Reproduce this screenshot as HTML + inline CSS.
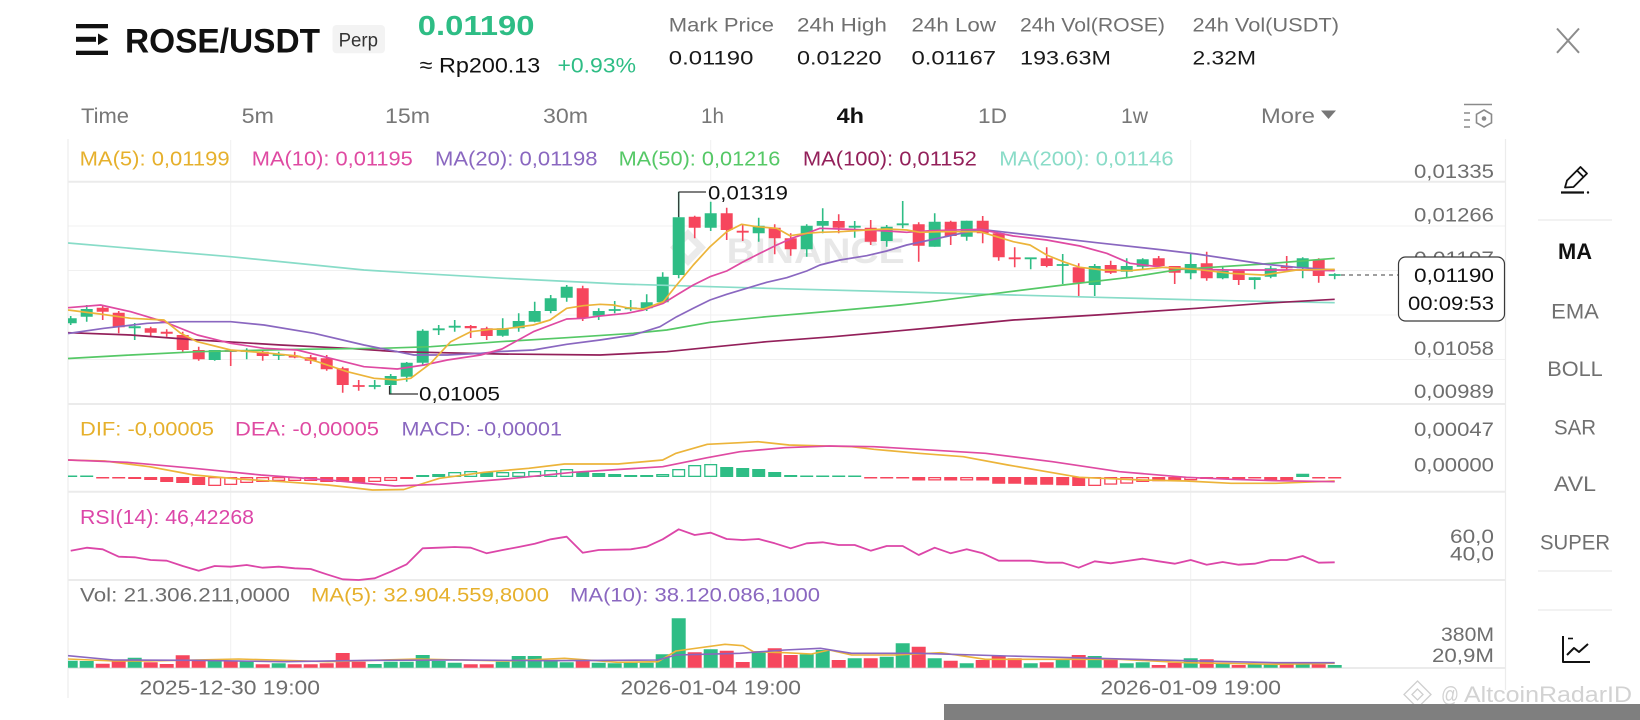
<!DOCTYPE html>
<html><head><meta charset="utf-8"><style>
html,body{margin:0;padding:0;background:#fff;width:1640px;height:720px;overflow:hidden}
svg{display:block}
text{font-family:"Liberation Sans",Arial,sans-serif}
</style></head><body>
<svg width="1640" height="720" viewBox="0 0 1640 720" xmlns="http://www.w3.org/2000/svg">
<defs><clipPath id="cp"><rect x="68" y="140" width="1437" height="560"/></clipPath></defs>
<rect width="1640" height="720" fill="#fff"/>

<!-- header -->
<g fill="#111">
<rect x="76" y="24" width="32" height="4.3"/>
<rect x="76" y="36.8" width="20" height="5"/>
<path d="M98 33.5 L108 39.3 L98 45 Z"/>
<rect x="76" y="50.7" width="32" height="4.3"/>
</g>
<text x="125" y="52.5" font-size="34" font-weight="bold" fill="#111" textLength="195" lengthAdjust="spacingAndGlyphs">ROSE/USDT</text>
<rect x="332.5" y="25" width="52.5" height="28.3" rx="4" fill="#f3f3f3"/>
<text x="338.6" y="46.7" font-size="19" fill="#333" textLength="39.4" lengthAdjust="spacingAndGlyphs">Perp</text>
<text x="417.8" y="34.8" font-size="28" font-weight="bold" fill="#2ebd85" textLength="116.7" lengthAdjust="spacingAndGlyphs">0.01190</text>
<text x="419.7" y="72.6" font-size="21.5" fill="#111" textLength="120.6" lengthAdjust="spacingAndGlyphs">≈ Rp200.13</text>
<text x="557.5" y="72.6" font-size="21.5" fill="#2ebd85" textLength="78.5" lengthAdjust="spacingAndGlyphs">+0.93%</text>

<g font-size="19" fill="#707070">
<text x="668.8" y="31.5" textLength="105.2" lengthAdjust="spacingAndGlyphs">Mark Price</text>
<text x="797" y="31.5" textLength="89.8" lengthAdjust="spacingAndGlyphs">24h High</text>
<text x="911.5" y="31.5" textLength="84.5" lengthAdjust="spacingAndGlyphs">24h Low</text>
<text x="1020" y="31.5" textLength="145" lengthAdjust="spacingAndGlyphs">24h Vol(ROSE)</text>
<text x="1192.5" y="31.5" textLength="146.5" lengthAdjust="spacingAndGlyphs">24h Vol(USDT)</text>
</g>
<g font-size="19" fill="#1a1a1a">
<text x="668.8" y="64.5" textLength="84.6" lengthAdjust="spacingAndGlyphs">0.01190</text>
<text x="797" y="64.5" textLength="84.5" lengthAdjust="spacingAndGlyphs">0.01220</text>
<text x="911.5" y="64.5" textLength="84.5" lengthAdjust="spacingAndGlyphs">0.01167</text>
<text x="1020" y="64.5" textLength="91" lengthAdjust="spacingAndGlyphs">193.63M</text>
<text x="1192.5" y="64.5" textLength="63.5" lengthAdjust="spacingAndGlyphs">2.32M</text>
</g>
<path d="M1557 28.5 L1579 52.8 M1579 28.5 L1557 52.8" stroke="#8c8c8c" stroke-width="2" fill="none"/>

<!-- tabs -->
<g font-size="21" fill="#777">
<text x="81" y="123" textLength="48" lengthAdjust="spacingAndGlyphs">Time</text>
<text x="241.6" y="123" textLength="32.4" lengthAdjust="spacingAndGlyphs">5m</text>
<text x="385" y="123" textLength="45" lengthAdjust="spacingAndGlyphs">15m</text>
<text x="543" y="123" textLength="45" lengthAdjust="spacingAndGlyphs">30m</text>
<text x="701" y="123" textLength="23" lengthAdjust="spacingAndGlyphs">1h</text>
<text x="836.6" y="123" textLength="27.4" lengthAdjust="spacingAndGlyphs" fill="#111" font-weight="bold">4h</text>
<text x="978" y="123" textLength="29" lengthAdjust="spacingAndGlyphs">1D</text>
<text x="1121" y="123" textLength="27" lengthAdjust="spacingAndGlyphs">1w</text>
<text x="1261" y="123" textLength="54" lengthAdjust="spacingAndGlyphs">More</text>
</g>
<path d="M1321 110.5 H1336 L1328.5 119 Z" fill="#777"/>
<g stroke="#8a8a8a" stroke-width="1.6" fill="none">
<path d="M1464 104.5 H1492 M1464 113 H1470 M1464 120 H1470 M1464 127 H1470"/>
<path d="M1484 110 L1491.5 114.3 L1491.5 122.8 L1484 127 L1476.5 122.8 L1476.5 114.3 Z"/>
</g>
<circle cx="1484" cy="118.5" r="2.3" fill="#8a8a8a"/>

<!-- grid -->
<g stroke="#f0f0f0" stroke-width="1">
<path d="M68 226H1505M68 270.5H1505M68 315H1505M68 359.5H1505"/>
<path d="M230.7 140V668M710.7 140V668M1190.7 140V668"/>
</g>
<g stroke="#ebebeb" stroke-width="2">
<path d="M68 181.7H1505M68 404H1505M68 491.7H1505M68 580H1505M68 668H1505"/>
</g>
<path d="M68 139V698M1505.5 139V690" stroke="#ececec" stroke-width="1.2"/>

<!-- Binance watermark -->
<g fill="#ebebeb">
<path d="M688 229 L706 247.5 L688 266 L670 247.5 Z M688 239 L679.5 247.5 L688 256 L696.5 247.5 Z" fill-rule="evenodd"/>
</g>
<text x="726.7" y="263" font-size="35" font-weight="bold" fill="#e8e8e8" textLength="178" lengthAdjust="spacingAndGlyphs">BINANCE</text>

<!-- legend -->
<g font-size="20">
<text x="79.6" y="165.5" fill="#e6b02c" textLength="150" lengthAdjust="spacingAndGlyphs">MA(5): 0,01199</text>
<text x="251.8" y="165.5" fill="#df4aa2" textLength="161" lengthAdjust="spacingAndGlyphs">MA(10): 0,01195</text>
<text x="435" y="165.5" fill="#8a67c0" textLength="162.5" lengthAdjust="spacingAndGlyphs">MA(20): 0,01198</text>
<text x="618.6" y="165.5" fill="#55c866" textLength="161.8" lengthAdjust="spacingAndGlyphs">MA(50): 0,01216</text>
<text x="802.9" y="165.5" fill="#93205a" textLength="174" lengthAdjust="spacingAndGlyphs">MA(100): 0,01152</text>
<text x="999.3" y="165.5" fill="#8adcc8" textLength="174.3" lengthAdjust="spacingAndGlyphs">MA(200): 0,01146</text>
</g>

<g clip-path="url(#cp)">
<!-- candles -->
<g transform="translate(70.7 0)">
<path stroke="#2ebd85" stroke-width="1.6" fill="none" d="M0 316V325M16 305V321.7M64 323V340M144 350V360.7M176 348.3V359.3M208 351.7V360M304 380V389.3M320 374V393.7M336 362V381.7M352 329.3V365M368 325V335M384 320V331.7M432 318.3V336.7M448 313.3V331.7M464 301.7V322.3M480 295V313.3M496 285V301.7M528 308.3V320M544 301V313.3M560 300V311M576 294.3V311M592 272.3V303.3M608 191.7V278.3M640 201.7V231M688 217.7V241.7M736 224.3V256.7M752 208.3V233.3M784 221V237.7M816 225V246.7M832 201V228.3M864 213.3V246.7M896 220.7V240.7M960 257.6V269.3M992 254V284M1024 264V296M1056 258.3V277.3M1072 258.3V270M1120 254V279.3M1152 267.3V279.3M1184 277.3V289.3M1200 266V278.3M1232 257.3V278.3M1264 273.3V279.3"/>
<path fill="#2ebd85" d="M-6 318.3h12V323.3h-12zM10 309h12V316.7h-12zM58 326.3h12V328.2h-12zM138 350h12V360h-12zM170 350.1h12V351.9h-12zM202 354.1h12V355.9h-12zM298 385.1h12V386.9h-12zM314 376h12V385h-12zM330 362.7h12V376.7h-12zM346 330.7h12V362.7h-12zM362 328.4h12V330.2h-12zM378 325.8h12V327.6h-12zM426 328.3h12V335.7h-12zM442 321h12V328.3h-12zM458 311h12V321.7h-12zM474 298.3h12V311h-12zM490 286.7h12V297.7h-12zM522 311h12V315.7h-12zM538 309.1h12V310.9h-12zM554 307.4h12V309.2h-12zM570 302.3h12V308.3h-12zM586 276.7h12V302.3h-12zM602 217.3h12V275h-12zM634 213.3h12V227.7h-12zM682 225.7h12V233.3h-12zM730 225.7h12V249.3h-12zM746 221h12V225.7h-12zM778 225.8h12V227.6h-12zM810 226.7h12V241h-12zM826 223.4h12V225.2h-12zM858 221.7h12V246.7h-12zM890 220.7h12V236.7h-12zM954 257.4h12V259.2h-12zM986 264.1h12V265.9h-12zM1018 266h12V285h-12zM1050 266h12V271.7h-12zM1066 259.3h12V266.7h-12zM1114 264h12V273.3h-12zM1146 270.7h12V278.3h-12zM1178 277.3h12V280h-12zM1194 268.3h12V276.7h-12zM1226 258.3h12V268.3h-12zM1258 274.1h12V275.9h-12z"/>
<path stroke="#f6465d" stroke-width="1.6" fill="none" d="M32 306V320M48 311V333.3M80 326.7V336M96 329.3V336.7M112 331.7V351.7M128 346.7V360.7M160 350V366M192 350V360.7M224 351.7V358.3M240 355V364M256 355V370.7M272 366.7V392.7M288 380V390.7M400 325V338M416 326.7V340M512 285.7V321M624 215.7V238.3M656 207.7V240M672 224.3V241M704 224.3V254.3M720 233.3V255.7M768 214.3V233.3M800 220V245M848 222.3V261.7M880 220.7V245M912 216V243.3M928 233.3V260.7M944 247.3V267.3M976 247.3V267.3M1008 263.3V296M1040 260.7V274M1088 256V268.3M1104 266V284M1136 251.7V280.7M1168 269.3V285M1216 256V270M1248 258.3V282.7"/>
<path fill="#f6465d" d="M26 307.7h12V311.7h-12zM42 312.7h12V327.3h-12zM74 328.3h12V332.7h-12zM90 331.8h12V333.7h-12zM106 335h12V350h-12zM122 350h12V359.3h-12zM154 350.1h12V351.9h-12zM186 351.7h12V356h-12zM218 355.8h12V357.5h-12zM234 357.3h12V360.7h-12zM250 358.3h12V369.3h-12zM266 368.3h12V385h-12zM282 385.1h12V386.9h-12zM394 326h12V328.3h-12zM410 328.3h12V336h-12zM506 288.3h12V318.3h-12zM618 216.7h12V227.7h-12zM650 213.3h12V230h-12zM666 230.8h12V232.6h-12zM698 227.7h12V238.3h-12zM714 238.3h12V249.3h-12zM762 221h12V227.7h-12zM794 227.7h12V241.7h-12zM842 224.3h12V245.7h-12zM874 221.7h12V236h-12zM906 220.7h12V233.3h-12zM922 233.3h12V257.3h-12zM938 257.4h12V259.2h-12zM970 258.3h12V266h-12zM1002 267.3h12V282.7h-12zM1034 265h12V272.7h-12zM1082 258.3h12V266h-12zM1098 266h12V272.7h-12zM1130 263.3h12V278.3h-12zM1162 270h12V280h-12zM1210 266.4h12V268.2h-12zM1242 260h12V276h-12z"/>
</g>

<!-- MA lines -->
<g fill="none" stroke-width="1.7" stroke-linejoin="round">
<polyline stroke="#88dcc8" points="68,243 230.7,256.7 364,270 417,273.3 504,278.3 620,284 766.7,288.3 940,293 1096.7,297.3 1230,300.7 1334.7,302.7"/>
<polyline stroke="#93205a" points="68,332.7 130.7,335 197.3,340 280.7,345 347.3,348.3 397.3,351.7 500,354 600,355 666.7,351.7 710,347.3 766.7,341.7 833.3,336.7 900,330.7 940,327 1013.3,320 1096.7,315 1196.7,308.3 1263.3,303.3 1334.7,299.3"/>
<polyline stroke="#55c866" points="68,358.5 130.7,355 197.3,351.7 297.3,349.3 380.7,348.3 430.7,346.7 500,341.7 566.7,337.7 633.3,333.3 666.7,330 710,322.3 766.7,316.7 833.3,311 900,305 930,301.7 996.7,293.3 1063.3,285 1130,277.3 1180,269.3 1263.3,264 1334.7,258.3"/>
<polyline stroke="#8a67c0" points="68,333.5 104,328.3 147.3,323.3 180.7,321.7 230.7,321.7 264,325 314,333.3 364,345 397.3,351.7 414,355 447.3,355 480.7,353.3 500,351.5 533.3,350 566.7,344.3 600,340 633.3,335 660,326.7 676.7,316.7 693.3,308.3 710,300 726.7,294.3 746.7,288.3 766.7,282.3 786.7,277.7 806.7,271 820,265 840,260 866.7,255.7 886.7,251 906.7,245 930,240 980,229.3 1030,235 1096.7,242.7 1163.3,250 1196.7,254 1263.3,264 1296.7,267.3 1334.7,270"/>
<polyline stroke="#df4aa2" points="68,307.7 100.7,305 130.7,311.7 164,321.7 197.3,335 230.7,343.3 264,348.3 297.3,350 324,356.7 364,366.7 397.3,369 424,365 447.3,360 480.7,355 502,349 533.3,331.7 566.7,319 583.3,318.3 600,316 626.7,313.3 643.3,310 663.3,303.3 676.7,295 693.3,285 710,276.7 726.7,271 743.3,261.7 760,253.3 776.7,245 793.3,237.7 806.7,233.3 820,228.3 840,229 866.7,230 886.7,231 906.7,232.3 930,230.7 980,229.3 1013.3,236 1046.7,240 1080,246 1106.7,253.3 1130,263.3 1163.3,267.3 1196.7,269.3 1230,270 1263.3,270 1296.7,270 1334.7,270.7"/>
<polyline stroke="#ecb43a" points="68,310 100,314 130.7,318.3 164,320 180.7,333.3 197.3,341.7 230.7,350 264,352.7 297.3,356 317.3,361.7 347.3,371.7 374,378.3 397.3,380 410.7,378.3 430.7,363.3 450.7,341.7 470.7,331.7 490.7,329.3 504,329 533.3,325 550,320 566.7,308.3 583.3,305.7 600,304.3 613.3,305 626.7,307.7 643.3,309 663.3,301.7 676.7,285 693.3,265 710,246.7 726.7,231.7 741.7,224.3 756.7,226.7 776.7,228.3 790,235.7 806.7,233.3 820,232.3 840,231.7 866.7,230 886.7,229 906.7,230 920,232.3 940,231.7 980,231.7 996.7,236.7 1013.3,241.7 1030,245 1046.7,255 1063.3,261.7 1080,267.3 1103.3,270 1130,270.7 1163.3,267.3 1196.7,269.3 1230,273.3 1263.3,275 1296.7,270 1334.7,269.3"/>
</g>

<!-- MACD histogram -->
<g transform="translate(70.7 0)">
<path fill="#2ebd85" d="M-6.5 475.5h13v1.5h-13zM9.5 475.5h13v1.5h-13zM345.5 475h13v2h-13zM361.5 474h13v3h-13zM409.5 472h13v5h-13zM505.5 472h13v5h-13zM521.5 473h13v4h-13zM537.5 474h13v3h-13zM553.5 475h13v2h-13zM569.5 475h13v2h-13zM649.5 467h13v10h-13zM665.5 468h13v9h-13zM681.5 469h13v8h-13zM697.5 472h13v5h-13zM713.5 475h13v2h-13zM729.5 475.5h13v1.5h-13zM745.5 475.5h13v1.5h-13zM761.5 475.5h13v1.5h-13zM777.5 475.5h13v1.5h-13zM1225.5 473.7h13v3.3h-13z"/>
<g fill="#fff" stroke="#2ebd85" stroke-width="1.3">
<rect x="378.15" y="472.65" width="11.7" height="3.7"/><rect x="394.15" y="471.65" width="11.7" height="4.7"/><rect x="426.15" y="472.65" width="11.7" height="3.7"/><rect x="442.15" y="472.65" width="11.7" height="3.7"/><rect x="458.15" y="471.65" width="11.7" height="4.7"/><rect x="474.15" y="470.65" width="11.7" height="5.7"/><rect x="490.15" y="469.65" width="11.7" height="6.7"/><rect x="586.15" y="474.65" width="11.7" height="1.7"/><rect x="602.15" y="469.65" width="11.7" height="6.7"/><rect x="618.15" y="465.65" width="11.7" height="10.7"/><rect x="634.15" y="464.65" width="11.7" height="11.7"/>
</g>
<path fill="#f6465d" d="M25.5 477h13v1.5h-13zM41.5 477h13v1.5h-13zM57.5 477h13v2h-13zM73.5 477h13v3h-13zM89.5 477h13v5h-13zM105.5 477h13v6h-13zM121.5 477h13v8h-13zM249.5 477h13v5h-13zM265.5 477h13v5h-13zM281.5 477h13v6h-13zM793.5 477h13v1.5h-13zM809.5 477h13v1.5h-13zM825.5 477h13v1.5h-13zM841.5 477h13v3.5h-13zM873.5 477h13v3.5h-13zM905.5 477h13v3.5h-13zM921.5 477h13v6.7h-13zM937.5 477h13v6.7h-13zM953.5 477h13v7.7h-13zM969.5 477h13v7.7h-13zM985.5 477h13v8.3h-13zM1001.5 477h13v9h-13zM1081.5 477h13v4.3h-13zM1097.5 477h13v4.3h-13zM1145.5 477h13v2h-13zM1161.5 477h13v2h-13zM1177.5 477h13v1.5h-13zM1193.5 477h13v3h-13zM1209.5 477h13v3h-13zM1241.5 477h13v1.5h-13zM1257.5 477h13v1.5h-13z"/>
<g fill="#fff" stroke="#f6465d" stroke-width="1.3">
<rect x="138.15" y="477.65" width="11.7" height="7.7"/><rect x="154.15" y="477.65" width="11.7" height="6.7"/><rect x="170.15" y="477.65" width="11.7" height="4.7"/><rect x="186.15" y="477.65" width="11.7" height="3.7"/><rect x="202.15" y="477.65" width="11.7" height="2.7"/><rect x="218.15" y="477.65" width="11.7" height="2.7"/><rect x="234.15" y="477.65" width="11.7" height="2.7"/><rect x="298.15" y="477.65" width="11.7" height="3.7"/><rect x="314.15" y="477.65" width="11.7" height="2.7"/><rect x="330.15" y="477.65" width="11.7" height="0.7"/><rect x="858.15" y="477.65" width="11.7" height="2.2"/><rect x="890.15" y="477.65" width="11.7" height="2.2"/><rect x="1018.15" y="477.65" width="11.7" height="7.7"/><rect x="1034.15" y="477.65" width="11.7" height="6.4"/><rect x="1050.15" y="477.65" width="11.7" height="5.4"/><rect x="1066.15" y="477.65" width="11.7" height="3.7"/><rect x="1114.15" y="477.65" width="11.7" height="2"/><rect x="1130.15" y="477.65" width="11.7" height="0.7"/>
</g>
</g>
<g fill="none" stroke-width="1.7" stroke-linejoin="round">
<polyline stroke="#ecb43a" points="68,460 104.6,461 149.3,466.7 194,475 238.6,479 283,481.7 328,485 372.5,490 403.8,489.5 439.5,478.3 484,472.3 528.7,468.3 564.5,464 618,464 662.7,460 676,453.3 707.3,444.3 740,442.7 757.9,441.7 789,445 851.6,446.7 874,449.3 918.6,453.3 963.2,456.7 1007.9,465 1052.5,472.7 1079.3,477.3 1141.8,480 1186.4,481 1231,483.3 1275.7,483.3 1334.7,481"/>
<polyline stroke="#df4aa2" points="68,460 127,462.3 194,468.3 261,475 328,480 394.8,486 439.5,484.3 506,479 573,472.3 662.7,466.7 707.3,457.7 740,451.7 784.6,447.7 829.3,446 874,446.7 918.6,449.3 985.5,453.3 1052.5,461.7 1119.5,471.7 1186.4,477.3 1231,479.3 1275.7,480.7 1334.7,481.7"/>
</g>

<!-- RSI -->
<g transform="translate(70.7 0)">
<polyline fill="none" stroke="#dc46a8" stroke-width="1.8" stroke-linejoin="round" points="0,550.7 16,547.7 32,549.3 48,556.7 64,557.3 80,560 96,560.7 112,566 128,570.7 144,566 160,566.7 176,565 192,567.7 208,566.7 224,568.3 240,569 256,574.3 272,579.3 288,580 304,578.3 320,571.7 336,564.3 352,548.3 368,547.7 384,547 400,547.7 416,553.3 432,550 448,547 464,543.7 480,539.3 496,536.7 512,552.7 528,550 544,549.7 560,549.3 576,546.7 592,539.3 608,529.3 624,535 640,532.7 656,539 672,540 688,539 704,543.3 720,548.3 736,543.3 752,542.3 768,545 784,545 800,550.7 816,546 832,546 848,555 864,547.7 880,553.3 896,549.3 912,553.3 928,560.7 944,560.7 960,560.7 976,562.7 992,562.7 1008,567.7 1024,561.3 1040,563.3 1056,561 1072,558.7 1088,561.3 1104,563.7 1120,560 1136,564.7 1152,562 1168,564.7 1184,563.7 1200,560 1216,560 1232,556 1248,562.7 1264,562.3"/>

<!-- volume -->
<path fill="#2ebd85" d="M-7 660.7h14V667.7h-14zM9 661h14V667.7h-14zM57 657.7h14V667.7h-14zM137 660.7h14V667.7h-14zM169 660.7h14V667.7h-14zM201 663.3h14V667.7h-14zM297 664h14V667.7h-14zM313 661.7h14V667.7h-14zM329 661.7h14V667.7h-14zM345 655h14V667.7h-14zM361 661h14V667.7h-14zM377 662.7h14V667.7h-14zM425 661.7h14V667.7h-14zM441 656h14V667.7h-14zM457 656h14V667.7h-14zM473 660.3h14V667.7h-14zM489 662.3h14V667.7h-14zM521 662.7h14V667.7h-14zM537 663.3h14V667.7h-14zM553 662.7h14V667.7h-14zM569 662.7h14V667.7h-14zM585 654.3h14V667.7h-14zM601 618.3h14V667.7h-14zM633 649.3h14V667.7h-14zM681 652.5h14V667.7h-14zM729 654.3h14V667.7h-14zM745 650h14V667.7h-14zM777 658.3h14V667.7h-14zM809 656.7h14V667.7h-14zM825 643.3h14V667.7h-14zM857 658.3h14V667.7h-14zM889 663.3h14V667.7h-14zM953 663.3h14V667.7h-14zM985 660h14V667.7h-14zM1017 656h14V667.7h-14zM1049 663.3h14V667.7h-14zM1065 662.3h14V667.7h-14zM1113 658.3h14V667.7h-14zM1145 664h14V667.7h-14zM1177 664.3h14V667.7h-14zM1193 664.3h14V667.7h-14zM1225 664.3h14V667.7h-14zM1257 665h14V667.7h-14z"/>
<path fill="#f6465d" d="M25 663.7h14V667.7h-14zM41 660.7h14V667.7h-14zM73 662.3h14V667.7h-14zM89 664h14V667.7h-14zM105 655.3h14V667.7h-14zM121 660.7h14V667.7h-14zM153 660.7h14V667.7h-14zM185 664.3h14V667.7h-14zM217 664.3h14V667.7h-14zM233 664.3h14V667.7h-14zM249 663.3h14V667.7h-14zM265 653h14V667.7h-14zM281 661.7h14V667.7h-14zM393 664.3h14V667.7h-14zM409 664.3h14V667.7h-14zM505 660.7h14V667.7h-14zM617 652.3h14V667.7h-14zM649 650.7h14V667.7h-14zM665 662h14V667.7h-14zM697 648.3h14V667.7h-14zM713 655h14V667.7h-14zM761 660h14V667.7h-14zM793 658.3h14V667.7h-14zM841 646.7h14V667.7h-14zM873 660.7h14V667.7h-14zM905 660h14V667.7h-14zM921 656h14V667.7h-14zM937 658.3h14V667.7h-14zM969 662.3h14V667.7h-14zM1001 655h14V667.7h-14zM1033 660h14V667.7h-14zM1081 665h14V667.7h-14zM1097 662.7h14V667.7h-14zM1129 659.3h14V667.7h-14zM1161 665h14V667.7h-14zM1209 664.3h14V667.7h-14zM1241 664.3h14V667.7h-14z"/>
</g>
<g fill="none" stroke-width="1.6" stroke-linejoin="round">
<polyline stroke="#ecb43a" points="68,659 113.6,661 149.3,661 238.6,659 328,661.7 417,659 506,661 564.5,658.3 618,662.3 658,661.7 676,651 725,644.3 743,645.7 753.4,651.7 784.6,652.7 811.4,654 829.3,650 851.6,655 896,655 941,652.7 985.5,659.3 1052.5,659.3 1119.5,659.3 1186.4,662.7 1275.7,664.3 1334.7,663.3"/>
<polyline stroke="#8a67c0" points="68,655.7 113.6,660 194,660.3 283,661.7 372.5,660.3 461.8,660 551,660.7 658,660 676,655 740,653.3 784.6,650 820.4,648.3 851.6,653.3 918.6,653.3 1007.9,656 1097,658.3 1186.4,660.7 1275.7,662.7 1334.7,662.7"/>
</g>
</g>

<!-- high / low markers -->
<path d="M678.7 192V217M678.7 192H706" stroke="#333" stroke-width="1.2" fill="none"/>
<text x="708" y="199.5" font-size="19" fill="#111" textLength="80" lengthAdjust="spacingAndGlyphs">0,01319</text>
<path d="M389.5 386V394H418" stroke="#333" stroke-width="1.2" fill="none"/>
<text x="419" y="400.5" font-size="19" fill="#111" textLength="81" lengthAdjust="spacingAndGlyphs">0,01005</text>

<!-- sub legends -->
<g font-size="19">
<text x="80" y="435.5" fill="#e6b02c" textLength="134" lengthAdjust="spacingAndGlyphs">DIF: -0,00005</text>
<text x="235" y="435.5" fill="#df4aa2" textLength="144" lengthAdjust="spacingAndGlyphs">DEA: -0,00005</text>
<text x="401.5" y="435.5" fill="#8a67c0" textLength="160.5" lengthAdjust="spacingAndGlyphs">MACD: -0,00001</text>
</g>
<text x="80" y="524" font-size="20" fill="#dc46a8" textLength="174" lengthAdjust="spacingAndGlyphs">RSI(14): 46,42268</text>
<g font-size="19.5">
<text x="80" y="601.5" fill="#6e6e6e" textLength="210" lengthAdjust="spacingAndGlyphs">Vol: 21.306.211,0000</text>
<text x="311" y="601.5" fill="#e6b02c" textLength="238" lengthAdjust="spacingAndGlyphs">MA(5): 32.904.559,8000</text>
<text x="570" y="601.5" fill="#8a67c0" textLength="250" lengthAdjust="spacingAndGlyphs">MA(10): 38.120.086,1000</text>
</g>

<!-- right axis -->
<g font-size="19" fill="#6e6e6e" text-anchor="end">
<text x="1494" y="178" textLength="80" lengthAdjust="spacingAndGlyphs">0,01335</text>
<text x="1494" y="221.5" textLength="80" lengthAdjust="spacingAndGlyphs">0,01266</text>
<text x="1494" y="265" textLength="80" lengthAdjust="spacingAndGlyphs">0,01197</text>
<text x="1494" y="355" textLength="80" lengthAdjust="spacingAndGlyphs">0,01058</text>
<text x="1494" y="398" textLength="80" lengthAdjust="spacingAndGlyphs">0,00989</text>
<text x="1494" y="436" textLength="80" lengthAdjust="spacingAndGlyphs">0,00047</text>
<text x="1494" y="471.5" textLength="80" lengthAdjust="spacingAndGlyphs">0,00000</text>
<text x="1494" y="543" textLength="44" lengthAdjust="spacingAndGlyphs">60,0</text>
<text x="1494" y="560.5" textLength="44" lengthAdjust="spacingAndGlyphs">40,0</text>
<text x="1494" y="641" textLength="53" lengthAdjust="spacingAndGlyphs">380M</text>
<text x="1494" y="662" textLength="62" lengthAdjust="spacingAndGlyphs">20,9M</text>
</g>

<!-- current price -->
<path d="M1341 275H1398" stroke="#666" stroke-width="1.3" stroke-dasharray="4 4"/>
<rect x="1398.5" y="257" width="106" height="64" rx="7" fill="#fff" stroke="#3a3a3a" stroke-width="1.2"/>
<g font-size="19" fill="#111" text-anchor="end">
<text x="1494" y="282" textLength="80" lengthAdjust="spacingAndGlyphs">0,01190</text>
<text x="1494" y="310" textLength="86" lengthAdjust="spacingAndGlyphs">00:09:53</text>
</g>

<!-- x axis -->
<g font-size="20" fill="#6e6e6e">
<text x="139.5" y="694.3" textLength="180.5" lengthAdjust="spacingAndGlyphs">2025-12-30 19:00</text>
<text x="620.5" y="694.3" textLength="180.5" lengthAdjust="spacingAndGlyphs">2026-01-04 19:00</text>
<text x="1100.5" y="694.3" textLength="180.5" lengthAdjust="spacingAndGlyphs">2026-01-09 19:00</text>
</g>

<!-- sidebar -->
<g stroke="#111" stroke-width="1.8" fill="none" stroke-linejoin="round">
<path d="M1565 187.5 L1567 180.5 L1580.5 167 L1587 173.5 L1573.5 187 Z M1577 170.5 L1583.5 177"/>
<path d="M1561 192.5 H1584" stroke-width="2.2"/>
</g>
<circle cx="1588" cy="192.5" r="1.2" fill="#111"/>
<path d="M1538 220H1612M1538 571H1612M1538 610H1612" stroke="#eeeeee" stroke-width="1.5"/>
<text x="1575" y="259" font-size="22" font-weight="bold" fill="#111" text-anchor="middle" textLength="34" lengthAdjust="spacingAndGlyphs">MA</text>
<g font-size="21" fill="#707070" text-anchor="middle">
<text x="1575" y="318.5" textLength="47.6" lengthAdjust="spacingAndGlyphs">EMA</text>
<text x="1575" y="376" textLength="55.5" lengthAdjust="spacingAndGlyphs">BOLL</text>
<text x="1575" y="434.5" textLength="42" lengthAdjust="spacingAndGlyphs">SAR</text>
<text x="1575" y="491" textLength="42" lengthAdjust="spacingAndGlyphs">AVL</text>
<text x="1575" y="549.5" textLength="70" lengthAdjust="spacingAndGlyphs">SUPER</text>
</g>
<g stroke="#111" stroke-width="2" fill="none" stroke-linejoin="round">
<path d="M1563 636V662H1590"/>
<path d="M1567 655L1574 648L1579 652L1588 644"/>
<path d="M1568 638.5H1573" stroke-width="1.6"/>
</g>

<!-- bottom watermark & bar -->
<g fill="none" stroke="#cfcfcf" stroke-width="1.3">
<path d="M1417.5 681 L1431 694.5 L1417.5 708 L1404 694.5 Z M1417.5 689 L1412 694.5 L1417.5 700 L1423 694.5 Z"/>
</g>
<text x="1441" y="702" font-size="22" fill="#d2d2d2" textLength="18" lengthAdjust="spacingAndGlyphs">@</text>
<text x="1464" y="702" font-size="22" fill="#d2d2d2" textLength="168" lengthAdjust="spacingAndGlyphs">AltcoinRadarID</text>
<rect x="944" y="704" width="696" height="16" fill="#7f7f7f"/>
</svg>
</body></html>
